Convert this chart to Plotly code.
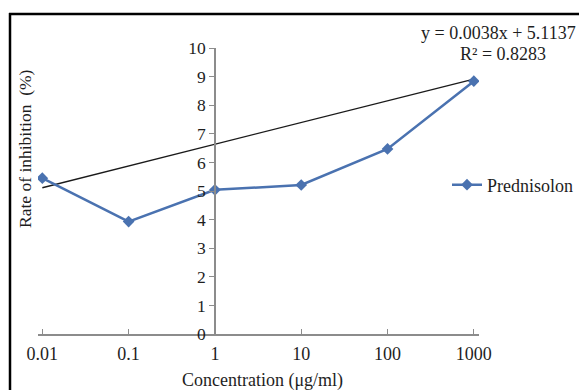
import plotly.graph_objects as go

# Data
concentrations = ["0.01", "0.1", "1", "10", "100", "1000"]
inhibition = [5.45, 3.93, 5.04, 5.21, 6.47, 8.84]
trend_x = ["0.01", "1000"]
trend_y = [5.1137, 8.9137]
y_ticks = [0, 1, 2, 3, 4, 5, 6, 7, 8, 9, 10]
equation = "y = 0.0038x + 5.1137"
r2 = "R² = 0.8283"

W, H = 579, 390
ML, MR, MT, MB = 38, 100, 48, 56
PW, PH = W - ML - MR, H - MT - MB

def px(xp):
    return (xp - ML) / PW

def py(yp):
    return (H - MB - yp) / PH

FONT = "Liberation Serif, Times New Roman, serif"
AXIS = "#8c8c8c"
TXT = "#1e1e1e"
FS = 18

fig = go.Figure()
fig.add_trace(go.Scatter(
    x=trend_x, y=trend_y, mode="lines",
    line=dict(color="#1a1a1a", width=1.3),
    showlegend=False, hoverinfo="skip",
))
fig.add_trace(go.Scatter(
    x=concentrations, y=inhibition, mode="lines+markers",
    name="Prednisolon",
    line=dict(color="#4a72b0", width=2.5),
    marker=dict(symbol="diamond", size=9, color="#4a72b0"),
))

xmin, xmax = -0.05, 5.06
ypos = (2 - xmin) / (xmax - xmin)

fig.update_layout(
    width=W, height=H,
    margin=dict(l=ML, r=MR, t=MT, b=MB, autoexpand=False),
    paper_bgcolor="white", plot_bgcolor="white",
    font=dict(family=FONT, size=FS, color=TXT),
    xaxis=dict(
        type="category", categoryorder="array", categoryarray=concentrations,
        range=[xmin, xmax], showgrid=False, zeroline=False,
        showline=True, linecolor=AXIS, linewidth=1.5,
        ticks="inside", ticklen=5, tickcolor=AXIS,
        ticklabelstandoff=3,
        tickfont=dict(family=FONT, size=FS, color=TXT),
    ),
    yaxis=dict(
        range=[0, 10], tickvals=y_ticks, showgrid=False, zeroline=False,
        anchor="free", position=ypos,
        showline=True, linecolor=AXIS, linewidth=1.5,
        ticks="outside", ticklen=5, tickcolor=AXIS,
        tickfont=dict(family=FONT, size=17.5, color=TXT),
    ),
    legend=dict(
        x=px(447), y=py(185), xanchor="left", yanchor="middle",
        bgcolor="rgba(0,0,0,0)", font=dict(family=FONT, size=FS, color=TXT),
        itemwidth=30,
    ),
    showlegend=True,
)

fig.add_annotation(
    xref="paper", yref="paper", x=px(25), y=py(149),
    text="Rate of inhibition  (%)", textangle=-90, showarrow=False,
    font=dict(family=FONT, size=17.5, color=TXT),
    xanchor="center", yanchor="middle",
)
fig.add_annotation(
    xref="paper", yref="paper", x=px(262), y=py(380),
    text="Concentration (μg/ml)", showarrow=False,
    font=dict(family=FONT, size=FS, color=TXT),
    xanchor="center", yanchor="middle",
)
fig.add_annotation(
    xref="paper", yref="paper", x=px(578), y=py(33),
    text=equation, showarrow=False, xanchor="right", yanchor="middle",
    font=dict(family=FONT, size=FS, color=TXT),
)
fig.add_annotation(
    xref="paper", yref="paper", x=px(503), y=py(54),
    text=r2, showarrow=False, xanchor="center", yanchor="middle",
    font=dict(family=FONT, size=FS, color=TXT),
)

# outer frame (top and left edges; the rest lies outside the picture)
fig.add_shape(
    type="line", xref="paper", yref="paper",
    x0=px(9), x1=px(W), y0=py(14), y1=py(14),
    line=dict(color="black", width=2.5), layer="below",
)
fig.add_shape(
    type="line", xref="paper", yref="paper",
    x0=px(10), x1=px(10), y0=py(13), y1=py(H),
    line=dict(color="black", width=2.5), layer="below",
)

fig.write_html(
    "out.html",
    config={"displayModeBar": False},
    post_script="document.body.style.margin='0';document.body.style.overflow='hidden';",
)
